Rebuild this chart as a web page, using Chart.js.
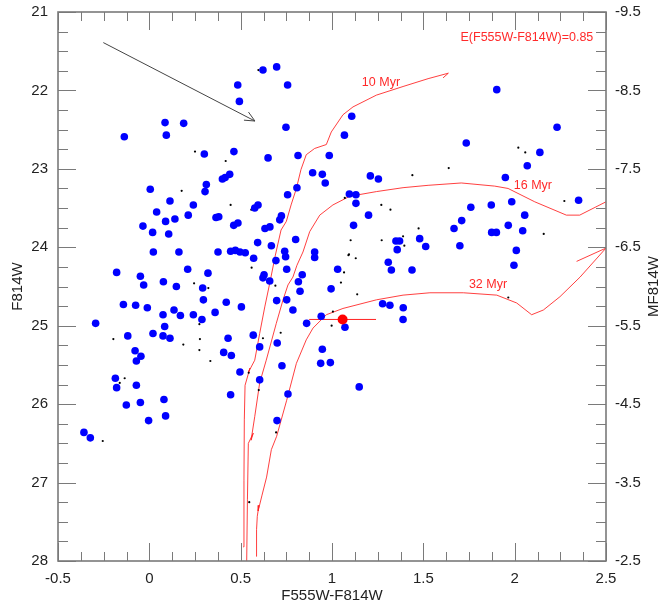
<!DOCTYPE html>
<html>
<head>
<meta charset="utf-8">
<script src="https://cdn.jsdelivr.net/npm/chart.js@4/dist/chart.umd.min.js"></script>
<style>
  html, body { margin: 0; padding: 0; background: #fff; }
</style>
</head>
<body>
<canvas id="cmd" width="658" height="610"></canvas>
<script>
// axis ticks
const xTicks = [-0.5, 0, 0.5, 1, 1.5, 2, 2.5];
const yTicks = [21, 22, 23, 24, 25, 26, 27, 28];
const absTicks = [-9.5, -8.5, -7.5, -6.5, -5.5, -4.5, -3.5, -2.5];

// stars with good photometry (blue) : colour and F814W
const blueColour = [0.484, 0.493, 0.086, 0.188, 0.093, -0.137, 0.301, 0.463, 0.44, 0.40,
  0.415, 0.312, 0.305, 0.005, 0.113, 0.241, 0.04, 0.089, 0.14, 0.213,
  0.365, 0.38, -0.035, 0.018, 0.106, 0.462, 0.485, 0.022, 0.162, 0.376,
  0.445, 0.471, 0.496, 0.525, 0.622, 0.697, 0.757, 0.748, 1.108, 1.068,
  0.65, 0.814, 0.985, 0.894, 0.947, 0.963, 1.21, 1.254, 0.808, 0.757,
  1.095, 1.131, 1.131, 0.595, 0.577, 0.723, 0.714, 0.633, 0.66, 1.20,
  1.118, 0.593, 0.801, 0.668, 0.741, 0.905, 1.35, 1.37, 1.357, 1.48,
  1.513, 1.902, 2.232, 1.735, 2.138, 2.069, 1.949, 2.35, 1.984, 1.872,
  1.76, 1.71, 2.055, 1.668, 1.965, 1.874, 1.90, 2.044, 1.70, 2.009,
  1.996, -0.179, -0.049, -0.031, 0.077, 0.21, 0.321, 0.148, 0.292, 0.296,
  0.421, 0.504, -0.142, -0.075, -0.011, 0.135, 0.075, 0.17, 0.241, 0.288,
  0.36, -0.294, 0.084, -0.118, 0.02, 0.075, 0.113, 0.431, -0.078, -0.046,
  -0.071, 0.407, 0.449, 0.496, -0.186, -0.179, -0.071, 0.445, -0.126, -0.049,
  0.08, 0.089, -0.004, -0.358, -0.323, 0.571, 0.746, 0.905, 0.693, 0.752,
  0.837, 0.628, 0.622, 0.659, 0.816, 0.825, 0.697, 0.752, 0.786, 1.031,
  0.995, 1.308, 1.325, 1.438, 1.277, 1.317, 1.39, 1.389, 0.941, 0.861,
  1.071, 0.947, 0.938, 0.991, 1.149, 0.569, 0.604, 0.70, 0.726, 0.604,
  0.759, 0.699];
const blueMag = [21.93, 22.14, 22.41, 22.42, 22.57, 22.59, 22.81, 22.78, 23.07, 23.13,
  23.11, 23.20, 23.29, 23.26, 23.41, 23.46, 23.55, 23.67, 23.64, 23.59,
  23.62, 23.61, 23.73, 23.81, 23.83, 23.72, 23.69, 24.06, 24.06, 24.06,
  24.05, 24.04, 24.06, 24.07, 21.74, 21.70, 21.93, 22.47, 22.33, 22.57,
  22.86, 22.83, 22.83, 23.05, 23.07, 23.18, 23.09, 23.13, 23.24, 23.33,
  23.32, 23.33, 23.44, 23.46, 23.50, 23.60, 23.65, 23.76, 23.74, 23.59,
  23.72, 23.94, 23.90, 23.98, 24.05, 24.06, 23.92, 23.92, 24.03, 23.89,
  23.99, 21.99, 22.47, 22.67, 22.79, 22.96, 23.11, 23.40, 23.42, 23.46,
  23.49, 23.66, 23.59, 23.76, 23.72, 23.81, 23.81, 23.79, 23.98, 24.04,
  24.23, 24.32, 24.37, 24.48, 24.44, 24.28, 24.33, 24.50, 24.52, 24.67,
  24.70, 24.76, 24.73, 24.74, 24.77, 24.80, 24.86, 24.87, 24.86, 24.92,
  24.83, 24.97, 25.01, 25.13, 25.10, 25.13, 25.16, 25.16, 25.32, 25.39,
  25.45, 25.34, 25.38, 25.59, 25.67, 25.79, 25.76, 25.88, 26.01, 25.98,
  25.94, 26.15, 26.21, 26.36, 26.43, 24.14, 24.12, 24.13, 24.17, 24.28,
  24.35, 24.35, 24.39, 24.43, 24.44, 24.56, 24.68, 24.67, 24.80, 24.28,
  24.53, 24.19, 24.29, 24.29, 24.72, 24.74, 24.77, 24.92, 24.88, 24.97,
  25.02, 25.30, 25.48, 25.47, 25.78, 25.12, 25.27, 25.22, 25.51, 25.69,
  25.87, 26.21];

// other sources (small black dots)
const blackColour = [0.597, 0.25, 0.418, 0.177, 0.445, 0.558, 1.44, 1.27, 1.32, 1.474,
  1.389, 1.396, 1.102, 1.272, 1.093, 2.02, 2.058, 1.639, 2.272, 2.159,
  -0.197, 0.186, 0.277, 0.274, 0.334, 0.245, 0.323, 0.274, -0.135, -0.162,
  -0.255, 1.09, 1.13, 1.066, 1.049, 1.138, 0.56, 0.69, 1.005, 0.998,
  0.719, 0.622, 0.544, 0.599, 0.694, 0.547, 1.965, 1.07];
const blackMag = [21.74, 22.78, 22.90, 23.28, 23.46, 23.52, 23.08, 23.46, 23.52, 23.76,
  23.86, 23.98, 23.91, 23.91, 24.09, 22.73, 22.79, 22.99, 23.41, 23.83,
  25.17, 25.24, 25.17, 25.31, 25.45, 24.46, 24.52, 24.98, 25.67, 25.73,
  26.47, 24.10, 24.14, 24.32, 24.45, 24.60, 24.26, 24.49, 24.82, 25.00,
  25.09, 25.16, 25.60, 25.82, 26.36, 27.25, 24.64, 23.37];

// isochrones, E(F555W-F814W)=0.85
const iso10Colour = [0.514, 0.518, 0.520, 0.524, 0.551, 0.543, 0.577, 0.604, 0.632, 0.659,
  0.690, 0.721, 0.750, 0.776, 0.805, 0.830, 0.859, 0.905, 0.969, 0.996,
  1.060, 1.115, 1.243, 1.389, 1.526, 1.637, 1.608];
const iso10Mag = [27.82, 26.97, 26.20, 25.76, 25.54, 25.59, 25.44, 25.10, 24.76, 24.46,
  24.10, 23.78, 23.67, 23.46, 23.25, 23.01, 22.82, 22.74, 22.69, 22.53,
  22.31, 22.21, 22.06, 21.95, 21.85, 21.78, 21.84];

const iso16Colour = [0.533, 0.537, 0.542, 0.569, 0.557, 0.577, 0.604, 0.640, 0.695, 0.732,
  0.759, 0.786, 0.808, 0.841, 0.878, 0.933, 1.005, 1.097, 1.243, 1.389,
  1.526, 1.708, 1.891, 1.964, 2.110, 2.283, 2.356, 2.50];
const iso16Mag = [28.0, 27.22, 26.50, 26.37, 26.46, 26.16, 25.73, 25.44, 24.97, 24.67,
  24.48, 24.38, 24.23, 24.06, 23.80, 23.59, 23.46, 23.35, 23.29, 23.24,
  23.21, 23.18, 23.22, 23.25, 23.42, 23.59, 23.59, 23.42];

const iso32Colour = [0.584, 0.587, 0.591, 0.600, 0.596, 0.617, 0.642, 0.668, 0.697, 0.752,
  0.805, 0.859, 0.896, 0.969, 1.060, 1.243, 1.389, 1.536, 1.719, 1.902,
  2.011, 2.093, 2.157, 2.248, 2.358, 2.50];
const iso32Mag = [27.94, 27.60, 27.43, 27.29, 27.36, 27.16, 26.93, 26.58, 26.41, 25.95,
  25.48, 25.18, 25.03, 24.86, 24.78, 24.67, 24.61, 24.58, 24.58, 24.61,
  24.71, 24.86, 24.80, 24.63, 24.38, 24.01];

const tailColour = [2.339, 2.50];
const tailMag = [24.18, 24.01];

// the progenitor candidate with its colour error
const snColour = [1.058];
const snMag = [24.92];
const snErr = [0.183];

// reddening vector
const arrowColour = [-0.252, 0.578];
const arrowMag = [21.39, 22.39];

const isoLabels = ['10 Myr', '16 Myr', '32 Myr', 'E(F555W-F814W)=0.85'];
const isoLabelColour = [1.268, 2.10, 1.854, 2.067];
const isoLabelMag = [21.905, 23.21, 24.47, 21.33];

const pts = (xs, ys) => xs.map((v, i) => ({ x: v, y: ys[i] }));
const FONT = 'Liberation Sans, Arial, Helvetica, sans-serif';
const RED = '#ff2a2a';

const frame = {
  id: 'frame',
  afterDraw(chart) {
    const { ctx, chartArea: a, scales } = chart;
    const sx = scales.x, sy = scales.y;
    ctx.save();
    ctx.strokeStyle = '#7a7a7a';
    ctx.lineWidth = 1;
    const seg = (x1, y1, x2, y2) => { ctx.beginPath(); ctx.moveTo(x1, y1); ctx.lineTo(x2, y2); ctx.stroke(); };
    for (let i = 0; i <= 24; i++) {
      const px = Math.round(sx.getPixelForValue(-0.5 + i * 0.125)) + 0.5;
      const len = i % 4 === 0 ? 18 : 9;
      seg(px, a.bottom, px, a.bottom - len);
      seg(px, a.top, px, a.top + len);
    }
    for (let i = 0; i <= 28; i++) {
      const py = Math.round(sy.getPixelForValue(21 + i * 0.25)) + 0.5;
      const len = i % 4 === 0 ? 18 : 10;
      seg(a.left, py, a.left + len, py);
      seg(a.right, py, a.right - len, py);
    }
    ctx.lineWidth = 1.6;
    ctx.strokeRect(a.left, a.top, a.right - a.left, a.bottom - a.top);

    // arrowhead of the reddening vector
    const x0 = sx.getPixelForValue(arrowColour[0]), y0 = sy.getPixelForValue(arrowMag[0]);
    const x1 = sx.getPixelForValue(arrowColour[1]), y1 = sy.getPixelForValue(arrowMag[1]);
    const ang = Math.atan2(y1 - y0, x1 - x0);
    ctx.strokeStyle = '#444';
    ctx.lineWidth = 1;
    [0.47, -0.4].forEach(d => seg(x1, y1, x1 - 11 * Math.cos(ang + d), y1 - 11 * Math.sin(ang + d)));

    // labels
    ctx.fillStyle = RED;
    ctx.font = '12.5px ' + FONT;
    ctx.textAlign = 'center';
    ctx.textBaseline = 'middle';
    isoLabels.forEach((t, i) => {
      ctx.fillText(t, sx.getPixelForValue(isoLabelColour[i]), sy.getPixelForValue(isoLabelMag[i]));
    });

    // axis titles
    ctx.fillStyle = '#222';
    ctx.font = '15px ' + FONT;
    ctx.fillText('F555W-F814W', (a.left + a.right) / 2, 596);
    const mid = (a.top + a.bottom) / 2;
    ctx.save(); ctx.translate(18, mid); ctx.rotate(-Math.PI / 2); ctx.fillText('F814W', 0, 0); ctx.restore();
    ctx.save(); ctx.translate(654, mid); ctx.rotate(-Math.PI / 2); ctx.fillText('MF814W', 0, 0); ctx.restore();
    ctx.restore();
  }
};

const lineSet = (xs, ys, colour, width) => ({
  data: pts(xs, ys), showLine: true, borderColor: colour, borderWidth: width,
  pointRadius: 0, fill: false, tension: 0
});

const tickFont = { family: FONT, size: 15 };
const plain = v => String(v);
const noPad = s => { s.paddingTop = 0; s.paddingBottom = 0; };

new Chart(document.getElementById('cmd'), {
  type: 'scatter',
  data: {
    datasets: [
      { data: pts(snColour, snMag), backgroundColor: '#ff0000', borderWidth: 0, pointRadius: 5 },
      { data: pts(blueColour, blueMag), backgroundColor: '#0000ff', borderWidth: 0, pointRadius: 3.8 },
      { data: pts(blackColour, blackMag), backgroundColor: '#000', borderWidth: 0, pointRadius: 1.1 },
      lineSet([snColour[0] - snErr[0], snColour[0] + snErr[0]], [snMag[0], snMag[0]], '#ff2020', 1),
      lineSet(arrowColour, arrowMag, '#444', 1),
      lineSet(iso10Colour, iso10Mag, 'rgba(255,30,30,0.85)', 1),
      lineSet(iso16Colour, iso16Mag, 'rgba(255,30,30,0.85)', 1),
      lineSet(iso32Colour, iso32Mag, 'rgba(255,30,30,0.85)', 1),
      lineSet(tailColour, tailMag, 'rgba(255,30,30,0.85)', 1)
    ]
  },
  options: {
    responsive: false,
    devicePixelRatio: 1,
    animation: false,
    layout: { padding: { top: 12, left: 0, right: 0, bottom: 0 } },
    plugins: { legend: { display: false }, tooltip: { enabled: false } },
    scales: {
      x: {
        type: 'linear', position: 'bottom', min: -0.5, max: 2.5,
        afterBuildTicks: s => { s.ticks = xTicks.map(v => ({ value: v })); },
        afterFit: s => { s.height = 49; s.paddingLeft = 0; s.paddingRight = 0; },
        grid: { display: false, drawTicks: false },
        border: { display: false },
        ticks: { font: tickFont, color: '#222', padding: 9, maxRotation: 0, autoSkip: false, callback: plain }
      },
      y: {
        type: 'linear', position: 'left', min: 21, max: 28, reverse: true,
        afterBuildTicks: s => { s.ticks = yTicks.map(v => ({ value: v })); },
        afterFit: s => { s.width = 58; noPad(s); },
        grid: { display: false, drawTicks: false },
        border: { display: false },
        ticks: { font: tickFont, color: '#222', padding: 10, autoSkip: false, callback: plain }
      },
      y2: {
        type: 'linear', position: 'right', min: -9.5, max: -2.5, reverse: true,
        afterBuildTicks: s => { s.ticks = absTicks.map(v => ({ value: v })); },
        afterFit: s => { s.width = 52; noPad(s); },
        grid: { display: false, drawTicks: false },
        border: { display: false },
        ticks: { font: tickFont, color: '#222', padding: 9, autoSkip: false, callback: plain }
      }
    }
  },
  plugins: [frame]
});
</script>
</body>
</html>
